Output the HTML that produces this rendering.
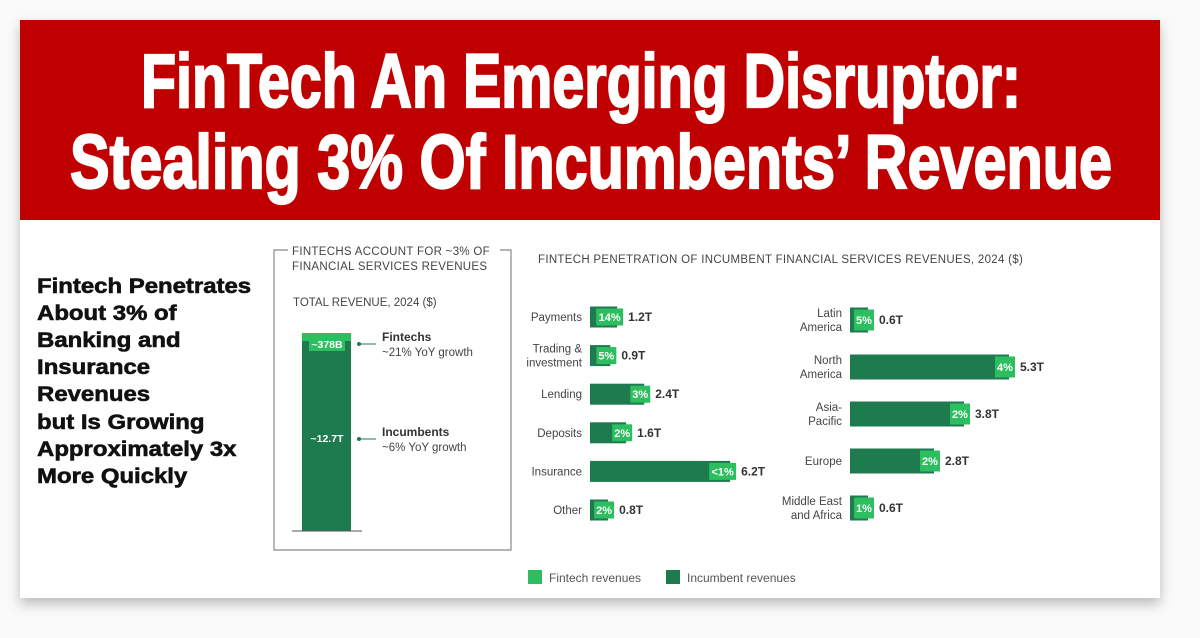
<!DOCTYPE html>
<html><head><meta charset="utf-8"><style>
html,body{margin:0;padding:0;background:#fff;}
svg{display:block;font-family:"Liberation Sans",sans-serif;}
</style></head><body>
<svg id="chart" width="1200" height="638" viewBox="0 0 1200 638">
<defs><filter id="sh" x="-5%" y="-5%" width="110%" height="115%"><feDropShadow dx="0" dy="6" stdDeviation="6" flood-color="#000" flood-opacity="0.25"/></filter></defs>
<rect x="0" y="0" width="1200" height="638" fill="#fafafa"/>
<rect x="20" y="20" width="1140" height="578" fill="#fff" filter="url(#sh)"/>
<rect x="20" y="20" width="1140" height="200" fill="#c00000"/>
<text x="581" y="107" text-anchor="middle" font-size="76" font-weight="bold" fill="#fff" stroke="#fff" stroke-width="2.2" textLength="880" lengthAdjust="spacingAndGlyphs">FinTech An Emerging Disruptor:</text>
<text x="591" y="188" text-anchor="middle" font-size="76" font-weight="bold" fill="#fff" stroke="#fff" stroke-width="2.2" textLength="1042" lengthAdjust="spacingAndGlyphs">Stealing 3% Of Incumbents’ Revenue</text>
<g font-size="21" font-weight="bold" fill="#111" stroke="#111" stroke-width="0.6" transform="scale(1.14,1)">
<text x="32.5" y="293">Fintech Penetrates</text>
<text x="32.5" y="320">About 3% of</text>
<text x="32.5" y="347">Banking and</text>
<text x="32.5" y="374">Insurance</text>
<text x="32.5" y="401">Revenues</text>
<text x="32.5" y="429">but Is Growing</text>
<text x="32.5" y="456">Approximately 3x</text>
<text x="32.5" y="483">More Quickly</text>
</g>
<g>
<path d="M288 250 H274 V550 H511 V250 H500" fill="none" stroke="#888" stroke-width="1.2"/>
<text x="292" y="255" font-size="11.5" fill="#444" letter-spacing="0.3">FINTECHS ACCOUNT FOR ~3% OF</text>
<text x="292" y="270" font-size="11.5" fill="#444" letter-spacing="0.3">FINANCIAL SERVICES REVENUES</text>
<text x="293" y="306" font-size="11.5" fill="#444">TOTAL REVENUE, 2024 ($)</text>
<rect x="302" y="340" width="49" height="191" fill="#1e7a4f"/>
<rect x="302" y="333" width="49" height="8" fill="#2dbe60"/>
<rect x="309" y="336" width="36" height="15" fill="#2dbe60"/>
<text x="327" y="348" font-size="10.5" font-weight="bold" fill="#fff" text-anchor="middle">~378B</text>
<text x="327" y="442" font-size="10.5" font-weight="bold" fill="#fff" text-anchor="middle">~12.7T</text>
<line x1="292" y1="531" x2="362" y2="531" stroke="#555"/>
<circle cx="359" cy="344" r="2" fill="#1e7a4f"/><line x1="359" y1="344" x2="376" y2="344" stroke="#1e7a4f"/>
<circle cx="359" cy="439" r="2" fill="#1e7a4f"/><line x1="359" y1="439" x2="376" y2="439" stroke="#1e7a4f"/>
<text x="382" y="341" font-size="12" font-weight="bold" fill="#333">Fintechs</text>
<text x="382" y="356" font-size="11.5" fill="#444">~21% YoY growth</text>
<text x="382" y="436" font-size="12" font-weight="bold" fill="#333">Incumbents</text>
<text x="382" y="451" font-size="11.5" fill="#444">~6% YoY growth</text>
</g>
<text x="538" y="263" font-size="11.5" fill="#444" letter-spacing="0.3">FINTECH PENETRATION OF INCUMBENT FINANCIAL SERVICES REVENUES, 2024 ($)</text>
<g id="sectors"></g>
<g id="regions"></g>
<g>
<rect x="528" y="570" width="14" height="14" fill="#2dbe60"/>
<text x="549" y="582" font-size="12" fill="#555">Fintech revenues</text>
<rect x="666" y="570" width="14" height="14" fill="#1e7a4f"/>
<text x="687" y="582" font-size="12" fill="#555">Incumbent revenues</text>
</g>
</svg>
<script>
const sectorNames = [["Payments"],["Trading &","investment"],["Lending"],["Deposits"],["Insurance"],["Other"]];
const sectorValues = [1.2, 0.9, 2.4, 1.6, 6.2, 0.8];
const sectorShares = ["14%","5%","3%","2%","<1%","2%"];
const regionNames = [["Latin","America"],["North","America"],["Asia-","Pacific"],["Europe"],["Middle East","and Africa"]];
const regionValues = [0.6, 5.3, 3.8, 2.8, 0.6];
const regionShares = ["5%","4%","2%","2%","1%"];
const NS="http://www.w3.org/2000/svg";
function mk(tag, attrs, parent){const e=document.createElementNS(NS,tag);for(const k in attrs)e.setAttribute(k,attrs[k]);parent.appendChild(e);return e;}
function draw(g, names, vals, shares, x0, y0, step, h, scale, nameType){
  vals.forEach((v,i)=>{
    const cy=y0+i*step, w=v*scale;
    const bar=mk('rect',{x:x0,y:cy-h/2,width:w,height:h,fill:'#1e7a4f'},g);
    
    
    const bw=shares[i].length*7+6;
    const bx=Math.max(x0+3, x0+w-bw+6);
    mk('rect',{x:bx,y:cy-h/2+2,width:bw,height:h-4,fill:'#2dbe60'},g);
    const t=mk('text',{x:bx+bw/2,y:cy+4,'font-size':11,'font-weight':'bold',fill:'#fff','text-anchor':'middle'},g);t.textContent=shares[i];
    const vt=mk('text',{x:bx+bw+5,y:cy+4,'font-size':12,'font-weight':'bold',fill:'#333'},g);vt.textContent=v.toFixed(1)+'T';
    
    
    const n=names[i];
    n.forEach((s,j)=>{const lt=mk('text',{x:x0-8,y:cy+4+(j-(n.length-1)/2)*14,'font-size':11.5,fill:'#444','text-anchor':'end'},g);lt.textContent=s;});
  });
}
draw(document.getElementById('sectors'), sectorNames, sectorValues, sectorShares, 590, 317, 38.6, 21, 22.6, 'sector');
draw(document.getElementById('regions'), regionNames, regionValues, regionShares, 850, 320, 47, 25, 30, 'region');
</script>
</body></html>
